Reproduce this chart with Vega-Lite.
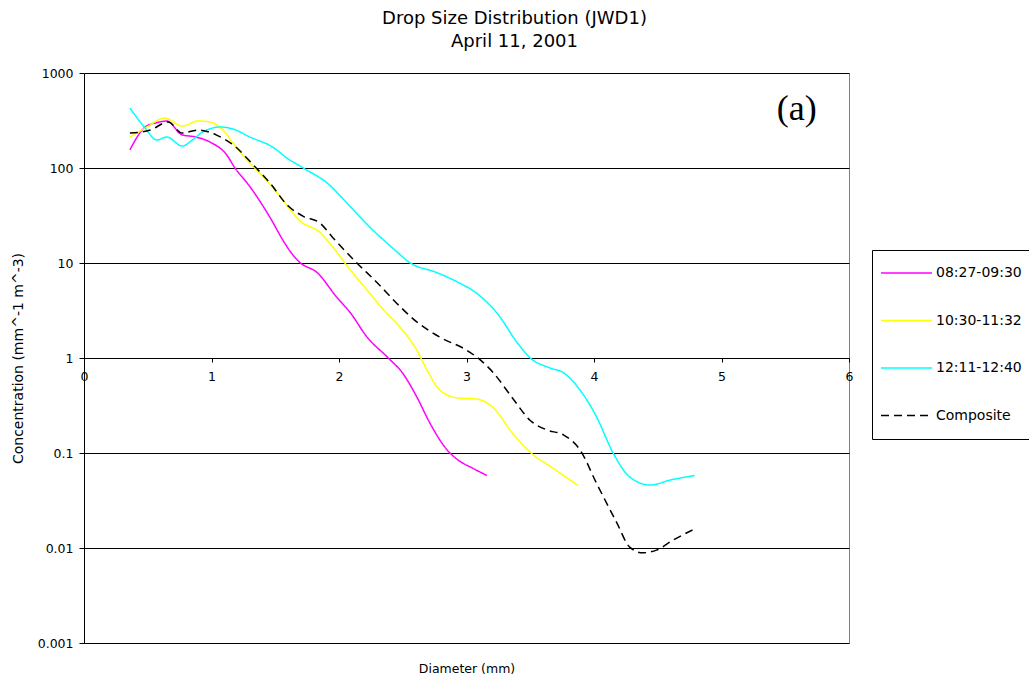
{
  "$schema": "https://vega.github.io/schema/vega-lite/v6.json",
  "width": 765,
  "height": 570,
  "autosize": {"type": "none"},
  "padding": {"left": 84, "top": 73, "right": 180, "bottom": 40},
  "background": "white",
  "title": {
    "text": ["Drop Size Distribution (JWD1)", "April 11, 2001"],
    "font": "DejaVu Sans",
    "fontSize": 18,
    "fontWeight": "normal",
    "color": "#000000",
    "anchor": "middle",
    "frame": "group",
    "dx": 48,
    "offset": 16,
    "lineHeight": 23
  },
  "config": {
    "view": {"stroke": "#808080", "strokeWidth": 1},
    "axis": {"labelFont": "DejaVu Sans", "titleFont": "DejaVu Sans", "labelColor": "#000000", "titleColor": "#000000"}
  },
  "data": {
    "values": [
      {"series": "08:27-09:30", "d": 0.36, "v": 155},
      {"series": "08:27-09:30", "d": 0.48, "v": 270},
      {"series": "08:27-09:30", "d": 0.57, "v": 300},
      {"series": "08:27-09:30", "d": 0.65, "v": 312},
      {"series": "08:27-09:30", "d": 0.77, "v": 223},
      {"series": "08:27-09:30", "d": 0.87, "v": 213},
      {"series": "08:27-09:30", "d": 0.99, "v": 187},
      {"series": "08:27-09:30", "d": 1.12, "v": 137},
      {"series": "08:27-09:30", "d": 1.18, "v": 102},
      {"series": "08:27-09:30", "d": 1.30, "v": 64},
      {"series": "08:27-09:30", "d": 1.46, "v": 30},
      {"series": "08:27-09:30", "d": 1.56, "v": 17.4},
      {"series": "08:27-09:30", "d": 1.62, "v": 13.1},
      {"series": "08:27-09:30", "d": 1.69, "v": 10.2},
      {"series": "08:27-09:30", "d": 1.83, "v": 7.9},
      {"series": "08:27-09:30", "d": 1.98, "v": 4.4},
      {"series": "08:27-09:30", "d": 2.09, "v": 2.98},
      {"series": "08:27-09:30", "d": 2.22, "v": 1.66},
      {"series": "08:27-09:30", "d": 2.38, "v": 1.02},
      {"series": "08:27-09:30", "d": 2.50, "v": 0.69},
      {"series": "08:27-09:30", "d": 2.61, "v": 0.39},
      {"series": "08:27-09:30", "d": 2.71, "v": 0.21},
      {"series": "08:27-09:30", "d": 2.85, "v": 0.107},
      {"series": "08:27-09:30", "d": 2.93, "v": 0.085},
      {"series": "08:27-09:30", "d": 3.05, "v": 0.069},
      {"series": "08:27-09:30", "d": 3.16, "v": 0.058},

      {"series": "10:30-11:32", "d": 0.36, "v": 212},
      {"series": "10:30-11:32", "d": 0.48, "v": 263},
      {"series": "10:30-11:32", "d": 0.635, "v": 336},
      {"series": "10:30-11:32", "d": 0.77, "v": 276},
      {"series": "10:30-11:32", "d": 0.894, "v": 312},
      {"series": "10:30-11:32", "d": 0.99, "v": 305},
      {"series": "10:30-11:32", "d": 1.09, "v": 251},
      {"series": "10:30-11:32", "d": 1.18, "v": 175},
      {"series": "10:30-11:32", "d": 1.28, "v": 121},
      {"series": "10:30-11:32", "d": 1.38, "v": 88},
      {"series": "10:30-11:32", "d": 1.51, "v": 56},
      {"series": "10:30-11:32", "d": 1.62, "v": 36},
      {"series": "10:30-11:32", "d": 1.69, "v": 28},
      {"series": "10:30-11:32", "d": 1.85, "v": 21},
      {"series": "10:30-11:32", "d": 1.95, "v": 14.8},
      {"series": "10:30-11:32", "d": 2.09, "v": 8.4},
      {"series": "10:30-11:32", "d": 2.22, "v": 5.2},
      {"series": "10:30-11:32", "d": 2.35, "v": 3.2},
      {"series": "10:30-11:32", "d": 2.48, "v": 2.1},
      {"series": "10:30-11:32", "d": 2.61, "v": 1.21},
      {"series": "10:30-11:32", "d": 2.69, "v": 0.75},
      {"series": "10:30-11:32", "d": 2.79, "v": 0.46},
      {"series": "10:30-11:32", "d": 2.93, "v": 0.38},
      {"series": "10:30-11:32", "d": 3.08, "v": 0.37},
      {"series": "10:30-11:32", "d": 3.21, "v": 0.30},
      {"series": "10:30-11:32", "d": 3.36, "v": 0.162},
      {"series": "10:30-11:32", "d": 3.50, "v": 0.102},
      {"series": "10:30-11:32", "d": 3.68, "v": 0.069},
      {"series": "10:30-11:32", "d": 3.87, "v": 0.046},

      {"series": "12:11-12:40", "d": 0.36, "v": 427},
      {"series": "12:11-12:40", "d": 0.48, "v": 263},
      {"series": "12:11-12:40", "d": 0.57, "v": 197},
      {"series": "12:11-12:40", "d": 0.65, "v": 212},
      {"series": "12:11-12:40", "d": 0.77, "v": 170},
      {"series": "12:11-12:40", "d": 0.85, "v": 197},
      {"series": "12:11-12:40", "d": 0.93, "v": 239},
      {"series": "12:11-12:40", "d": 1.07, "v": 270},
      {"series": "12:11-12:40", "d": 1.17, "v": 257},
      {"series": "12:11-12:40", "d": 1.30, "v": 212},
      {"series": "12:11-12:40", "d": 1.48, "v": 166},
      {"series": "12:11-12:40", "d": 1.60, "v": 125},
      {"series": "12:11-12:40", "d": 1.72, "v": 100},
      {"series": "12:11-12:40", "d": 1.91, "v": 69},
      {"series": "12:11-12:40", "d": 2.09, "v": 39},
      {"series": "12:11-12:40", "d": 2.24, "v": 24},
      {"series": "12:11-12:40", "d": 2.42, "v": 14.4},
      {"series": "12:11-12:40", "d": 2.56, "v": 10},
      {"series": "12:11-12:40", "d": 2.77, "v": 7.9},
      {"series": "12:11-12:40", "d": 2.93, "v": 6.3},
      {"series": "12:11-12:40", "d": 3.08, "v": 4.8},
      {"series": "12:11-12:40", "d": 3.24, "v": 2.96},
      {"series": "12:11-12:40", "d": 3.40, "v": 1.44},
      {"series": "12:11-12:40", "d": 3.50, "v": 1.0},
      {"series": "12:11-12:40", "d": 3.65, "v": 0.79},
      {"series": "12:11-12:40", "d": 3.76, "v": 0.70},
      {"series": "12:11-12:40", "d": 3.89, "v": 0.46},
      {"series": "12:11-12:40", "d": 4.02, "v": 0.24},
      {"series": "12:11-12:40", "d": 4.15, "v": 0.10},
      {"series": "12:11-12:40", "d": 4.28, "v": 0.056},
      {"series": "12:11-12:40", "d": 4.44, "v": 0.046},
      {"series": "12:11-12:40", "d": 4.60, "v": 0.052},
      {"series": "12:11-12:40", "d": 4.79, "v": 0.058},

      {"series": "Composite", "d": 0.36, "v": 233},
      {"series": "Composite", "d": 0.52, "v": 251},
      {"series": "Composite", "d": 0.66, "v": 305},
      {"series": "Composite", "d": 0.77, "v": 233},
      {"series": "Composite", "d": 0.894, "v": 251},
      {"series": "Composite", "d": 1.04, "v": 222},
      {"series": "Composite", "d": 1.17, "v": 175},
      {"series": "Composite", "d": 1.33, "v": 107},
      {"series": "Composite", "d": 1.46, "v": 69},
      {"series": "Composite", "d": 1.60, "v": 40},
      {"series": "Composite", "d": 1.72, "v": 31},
      {"series": "Composite", "d": 1.85, "v": 26.4},
      {"series": "Composite", "d": 1.95, "v": 18.6},
      {"series": "Composite", "d": 2.14, "v": 10},
      {"series": "Composite", "d": 2.30, "v": 6.2},
      {"series": "Composite", "d": 2.45, "v": 3.8},
      {"series": "Composite", "d": 2.61, "v": 2.4},
      {"series": "Composite", "d": 2.79, "v": 1.66},
      {"series": "Composite", "d": 3.0, "v": 1.21},
      {"series": "Composite", "d": 3.11, "v": 0.95},
      {"series": "Composite", "d": 3.21, "v": 0.70},
      {"series": "Composite", "d": 3.36, "v": 0.38},
      {"series": "Composite", "d": 3.50, "v": 0.22},
      {"series": "Composite", "d": 3.63, "v": 0.175},
      {"series": "Composite", "d": 3.76, "v": 0.155},
      {"series": "Composite", "d": 3.89, "v": 0.108},
      {"series": "Composite", "d": 4.02, "v": 0.048},
      {"series": "Composite", "d": 4.18, "v": 0.0183},
      {"series": "Composite", "d": 4.28, "v": 0.0102},
      {"series": "Composite", "d": 4.38, "v": 0.0089},
      {"series": "Composite", "d": 4.49, "v": 0.0095},
      {"series": "Composite", "d": 4.62, "v": 0.0121},
      {"series": "Composite", "d": 4.79, "v": 0.0159}
    ]
  },
  "layer": [
    {
      "mark": {"type": "line", "interpolate": "monotone", "strokeWidth": 1.5},
      "encoding": {
        "x": {
          "field": "d", "type": "quantitative",
          "scale": {"domain": [0, 6], "nice": false, "zero": false},
          "axis": {
            "values": [0, 1, 2, 3, 4, 5, 6],
            "format": "d",
            "offset": -285,
            "grid": false,
            "domain": true, "domainColor": "#000000", "domainWidth": 1,
            "ticks": true, "tickColor": "#000000", "tickSize": 4,
            "labelFontSize": 12.5, "labelPadding": 8, "labelFlush": false, "labelBound": false, "labelOverlap": false,
            "title": "Diameter (mm)",
            "titleFontSize": 12.5, "titleFontWeight": "normal",
            "titleY": 310, "titleBaseline": "middle", "titleAnchor": "middle"
          }
        },
        "y": {
          "field": "v", "type": "quantitative",
          "scale": {"type": "log", "domain": [0.001, 1000], "nice": false},
          "axis": {
            "values": [0.001, 0.01, 0.1, 1, 10, 100, 1000],
            "format": "~g",
            "grid": true, "gridColor": "#000000", "gridWidth": 1, "gridOpacity": 1,
            "domain": true, "domainColor": "#000000", "domainWidth": 1,
            "ticks": true, "tickColor": "#000000", "tickSize": 5,
            "labelFontSize": 12.5, "labelPadding": 6, "labelOverlap": false,
            "title": "Concentration (mm^-1 m^-3)",
            "titleFontSize": 14, "titleFontWeight": "normal",
            "titleX": -66, "titleY": 285, "titleAngle": -90, "titleAlign": "center", "titleBaseline": "middle"
          }
        },
        "color": {
          "field": "series", "type": "nominal",
          "scale": {"domain": ["08:27-09:30", "10:30-11:32", "12:11-12:40", "Composite"], "range": ["#FF00FF", "#FFFF00", "#00FFFF", "#000000"]},
          "legend": {
            "title": null,
            "orient": "none",
            "legendX": 788,
            "legendY": 177,
            "strokeColor": "#000000",
            "fillColor": "#ffffff",
            "padding": 8,
            "clipHeight": 30,
            "symbolType": "stroke",
            "symbolSize": 2601,
            "symbolStrokeWidth": 1.5,
            "labelFont": "DejaVu Sans",
            "labelFontSize": 14,
            "labelColor": "#000000",
            "labelOffset": 3,
            "rowPadding": 17.5
          }
        },
        "strokeDash": {
          "field": "series", "type": "nominal",
          "scale": {"domain": ["08:27-09:30", "10:30-11:32", "12:11-12:40", "Composite"], "range": [[1, 0], [1, 0], [1, 0], [8, 5]]},
          "legend": {
            "title": null,
            "orient": "none",
            "legendX": 788,
            "legendY": 177,
            "strokeColor": "#000000",
            "fillColor": "#ffffff",
            "padding": 8,
            "clipHeight": 30,
            "symbolType": "stroke",
            "symbolSize": 2601,
            "symbolStrokeWidth": 1.5,
            "labelFont": "DejaVu Sans",
            "labelFontSize": 14,
            "labelColor": "#000000",
            "labelOffset": 3,
            "rowPadding": 17.5
          }
        }
      }
    },
    {
      "data": {"values": [{"label": "(a)"}]},
      "mark": {"type": "text", "font": "Liberation Serif", "fontSize": 36, "fontWeight": "normal", "align": "center", "baseline": "middle", "fill": "#000000"},
      "encoding": {
        "x": {"datum": 5.59, "type": "quantitative"},
        "y": {"datum": 420, "type": "quantitative"},
        "text": {"field": "label", "type": "nominal"}
      }
    }
  ]
}
